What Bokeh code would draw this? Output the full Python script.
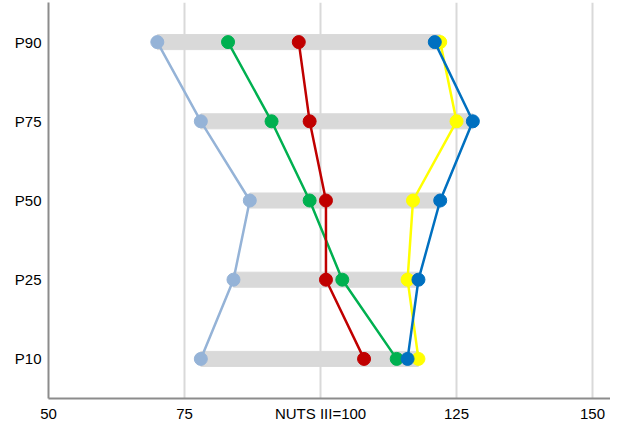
from bokeh.plotting import figure
from bokeh.models import FixedTicker, Range1d, FactorRange
from bokeh.embed import file_html
from bokeh.resources import INLINE

categories = ["P10", "P25", "P50", "P75", "P90"]
light_blue = [78, 84, 87, 78, 70]
green = [114, 104, 98, 91, 83]
red = [108, 101, 101, 98, 96]
yellow = [118, 116, 117, 125, 122]
blue = [116, 118, 122, 128, 121]
x_ticks = [50, 75, 100, 125, 150]
x_tick_labels = ["50", "75", "NUTS III=100", "125", "150"]

series = [light_blue, green, red, yellow, blue]
colors = ["#95b3d7", "#00b050", "#c00000", "#ffff00", "#0070c0"]

p = figure(width=610, height=424, y_range=FactorRange(factors=categories),
           x_range=Range1d(50, 153.3), output_backend="svg", toolbar_location=None,
           min_border_left=48, min_border_top=2, min_border_right=0, min_border_bottom=22)
p.outline_line_color = None

lows = [min(v) for v in zip(*series)]
highs = [max(v) for v in zip(*series)]
p.hbar(y=categories, left=lows, right=highs, height=0.19, color="#d9d9d9")

for vals, c in zip(series, colors):
    p.line(x=vals, y=categories, line_color=c, line_width=2.5)
    p.scatter(x=vals, y=categories, size=13, fill_color=c, line_color=c)

p.xaxis.ticker = FixedTicker(ticks=x_ticks)
p.xaxis.major_label_overrides = {t: l for t, l in zip(x_ticks, x_tick_labels)}
for ax in (p.xaxis, p.yaxis):
    ax.axis_line_color = "#8c8c8c"
    ax.axis_line_width = 2
    ax.major_tick_line_color = None
    ax.minor_tick_line_color = None
    ax.major_tick_out = 0
    ax.major_tick_in = 0
    ax.major_label_text_font = "Liberation Sans"
    ax.major_label_text_font_size = "15px"
    ax.major_label_text_color = "black"
p.xaxis.major_label_standoff = 6
p.yaxis.major_label_standoff = 7

p.xgrid.grid_line_color = "#d9d9d9"
p.xgrid.grid_line_width = 2
p.ygrid.grid_line_color = None

open("out.html", "w").write(file_html(p, INLINE))
